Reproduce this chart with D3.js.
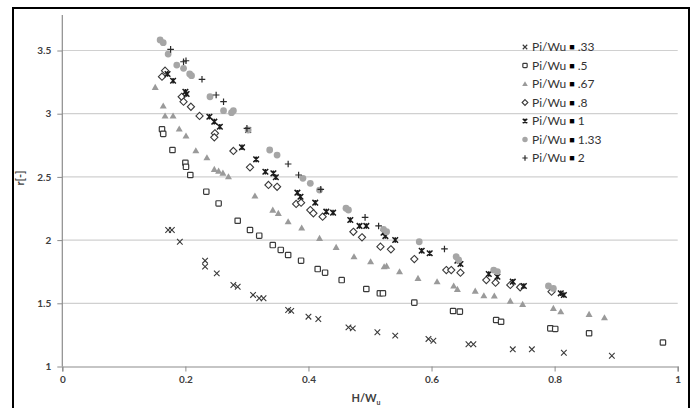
<!DOCTYPE html>
<html><head><meta charset="utf-8">
<script src="https://cdn.jsdelivr.net/npm/d3@7/dist/d3.min.js"></script>
<style>body{margin:0;background:#fff}svg{display:block}</style>
</head><body><svg id="c" width="696" height="408"></svg>
<script>
const seriesNames = ["Pi/Wu ■ .33","Pi/Wu ■ .5","Pi/Wu ■ .67","Pi/Wu ■ .8","Pi/Wu ■ 1","Pi/Wu ■ 1.33","Pi/Wu ■ 2"];
const xTicks = [0,0.2,0.4,0.6,0.8,1];
const yTicks = [1,1.5,2,2.5,3,3.5];

const s033 = [[0.172,2.08],[0.178,2.08],[0.191,1.987],[0.232,1.837],[0.232,1.79],[0.251,1.737],[0.278,1.645],[0.285,1.631],[0.310,1.566],[0.320,1.54],[0.327,1.54],[0.367,1.447],[0.372,1.44],[0.400,1.394],[0.416,1.376],[0.465,1.31],[0.472,1.302],[0.512,1.271],[0.541,1.244],[0.595,1.218],[0.603,1.204],[0.660,1.176],[0.668,1.176],[0.732,1.136],[0.763,1.136],[0.815,1.109],[0.893,1.085]];
const s05 = [[0.162,2.877],[0.164,2.84],[0.179,2.713],[0.200,2.612],[0.201,2.58],[0.208,2.515],[0.234,2.383],[0.254,2.29],[0.285,2.153],[0.305,2.08],[0.320,2.035],[0.342,1.961],[0.355,1.922],[0.367,1.882],[0.388,1.837],[0.415,1.771],[0.427,1.742],[0.454,1.684],[0.494,1.613],[0.516,1.579],[0.521,1.579],[0.572,1.505],[0.635,1.439],[0.646,1.434],[0.705,1.368],[0.713,1.354],[0.793,1.302],[0.801,1.297],[0.856,1.263],[0.976,1.19]];
const s067 = [[0.151,3.209],[0.164,3.061],[0.167,2.982],[0.180,2.982],[0.190,2.879],[0.201,2.824],[0.217,2.707],[0.235,2.652],[0.247,2.56],[0.254,2.546],[0.261,2.53],[0.270,2.502],[0.313,2.349],[0.342,2.238],[0.351,2.212],[0.367,2.146],[0.389,2.096],[0.418,2.014],[0.445,1.943],[0.474,1.869],[0.501,1.829],[0.523,1.79],[0.527,1.795],[0.548,1.75],[0.578,1.698],[0.609,1.671],[0.636,1.637],[0.642,1.611],[0.671,1.597],[0.685,1.56],[0.702,1.558],[0.728,1.518],[0.748,1.492],[0.798,1.46],[0.810,1.434],[0.856,1.413],[0.881,1.386]];
const s08 = [[0.162,3.293],[0.167,3.34],[0.194,3.134],[0.197,3.095],[0.209,3.055],[0.223,2.982],[0.248,2.845],[0.247,2.813],[0.278,2.705],[0.305,2.576],[0.335,2.436],[0.349,2.422],[0.380,2.286],[0.388,2.296],[0.403,2.238],[0.408,2.212],[0.423,2.185],[0.473,2.066],[0.487,2.022],[0.517,1.948],[0.534,1.927],[0.572,1.85],[0.624,1.763],[0.632,1.763],[0.647,1.742],[0.689,1.684],[0.704,1.663],[0.728,1.645],[0.744,1.627],[0.795,1.592]];
const s1 = [[0.171,3.314],[0.180,3.261],[0.200,3.174],[0.202,3.156],[0.239,2.976],[0.247,2.937],[0.256,2.897],[0.302,2.871],[0.292,2.734],[0.315,2.639],[0.330,2.541],[0.343,2.528],[0.347,2.497],[0.382,2.375],[0.387,2.343],[0.411,2.296],[0.429,2.225],[0.440,2.217],[0.468,2.159],[0.483,2.112],[0.494,2.112],[0.522,2.059],[0.525,2.032],[0.541,2.001],[0.584,1.916],[0.597,1.896],[0.642,1.837],[0.647,1.811],[0.693,1.732],[0.707,1.71],[0.732,1.671],[0.750,1.637],[0.810,1.579],[0.815,1.566]];
const s133 = [[0.159,3.583],[0.164,3.562],[0.172,3.472],[0.186,3.385],[0.197,3.359],[0.207,3.314],[0.210,3.301],[0.240,3.134],[0.262,3.024],[0.275,3.008],[0.278,3.024],[0.302,2.871],[0.337,2.713],[0.349,2.673],[0.391,2.489],[0.403,2.449],[0.418,2.396],[0.461,2.252],[0.465,2.238],[0.522,2.085],[0.527,2.066],[0.580,1.987],[0.640,1.869],[0.644,1.843],[0.701,1.763],[0.707,1.75],[0.790,1.637],[0.798,1.618]];
const s2 = [[0.176,3.509],[0.197,3.411],[0.201,3.419],[0.227,3.272],[0.250,3.148],[0.262,3.095],[0.300,2.884],[0.367,2.602],[0.384,2.515],[0.420,2.402],[0.492,2.18],[0.514,2.112],[0.621,1.93]];

const seriesData = [s033,s05,s067,s08,s1,s133,s2];
const markerTypes = ["x","square","triangle","diamond","star","circle","plus"];
const markerColors = ["#3a3a3a","#3a3a3a","#9a9a9a","#3a3a3a","#1a1a1a","#a6a6a6","#2a2a2a"];

const svg = d3.select("#c");
const font = "Lato, 'Open Sans', sans-serif";
const x = d3.scaleLinear().domain([0,1]).range([62.3,677.7]);
const y = d3.scaleLinear().domain([1,3.5]).range([366.5,50.5]);

// outer frame
svg.append("rect").attr("x",13).attr("y",8).attr("width",676).attr("height",420)
  .attr("fill","#fff").attr("stroke","#000").attr("stroke-width",2);

// gridlines
svg.append("g").selectAll("line").data(yTicks.slice(1)).join("line")
  .attr("x1",x(0)).attr("x2",x(1)).attr("y1",d=>y(d)).attr("y2",d=>y(d))
  .attr("stroke","#d0d0d0").attr("stroke-width",1.2);

// axes
const yAxis = d3.axisLeft(y).tickValues(yTicks).tickSize(5).tickPadding(6).tickFormat(d3.format("~g"));
const gy = svg.append("g").attr("transform",`translate(${x(0)},0)`).call(yAxis);
gy.select(".domain").remove();
gy.append("line").attr("x1",0).attr("x2",0).attr("y1",y(1)).attr("y2",y(3.78)).attr("stroke","#8c8c8c").attr("stroke-width",1.2);
gy.selectAll(".tick line").attr("stroke","#8c8c8c");
gy.selectAll("text").attr("font-family",font).attr("font-size",10).attr("fill","#404040").attr("font-weight","bold");

const xAxis = d3.axisBottom(x).tickValues(xTicks).tickSize(5).tickPadding(4).tickFormat(d3.format("~g"));
const gx = svg.append("g").attr("transform",`translate(0,${y(1)})`).call(xAxis);
gx.select(".domain").attr("stroke","#8c8c8c").attr("stroke-width",1.2);
gx.selectAll(".tick line").attr("stroke","#8c8c8c");
gx.selectAll("text").attr("font-family",font).attr("font-size",10).attr("fill","#404040").attr("font-weight","bold");

// axis titles
const xt = svg.append("text").attr("x",366).attr("y",402).attr("text-anchor","middle")
  .attr("font-family",font).attr("font-size",11).attr("font-weight","bold").attr("fill","#404040");
xt.append("tspan").text("H/W");
xt.append("tspan").attr("font-size",7).attr("dy",3).text("u");
svg.append("text").attr("transform","translate(24,178) rotate(-90)").attr("text-anchor","middle")
  .attr("font-family",font).attr("font-size",11).attr("font-weight","bold").attr("fill","#404040").text("r[-]");

// markers
function drawMarker(g, type, color, cx, cy, scale){
  const s = scale||1;
  if(type==="x"){
    const r=2.8*s;
    g.append("path").attr("d",`M${cx-r},${cy-r}L${cx+r},${cy+r}M${cx-r},${cy+r}L${cx+r},${cy-r}`).attr("stroke",color).attr("stroke-width",1.1).attr("fill","none");
  } else if(type==="star"){
    const r=2.8*s;
    g.append("path").attr("d",`M${cx-r},${cy-r}L${cx+r},${cy+r}M${cx-r},${cy+r}L${cx+r},${cy-r}M${cx},${cy-r}L${cx},${cy+r}`).attr("stroke",color).attr("stroke-width",1.5).attr("fill","none");
  } else if(type==="plus"){
    const r=3.3*s;
    g.append("path").attr("d",`M${cx-r},${cy}L${cx+r},${cy}M${cx},${cy-r}L${cx},${cy+r}`).attr("stroke",color).attr("stroke-width",1.2).attr("fill","none");
  } else if(type==="square"){
    const r=2.7*s;
    g.append("rect").attr("x",cx-r).attr("y",cy-r).attr("width",2*r).attr("height",2*r).attr("rx",0.8)
      .attr("fill","#fff").attr("stroke",color).attr("stroke-width",1.2);
  } else if(type==="diamond"){
    const r=3.6*s;
    g.append("path").attr("d",`M${cx},${cy-r}L${cx+r},${cy}L${cx},${cy+r}L${cx-r},${cy}Z`).attr("fill","#fff").attr("stroke",color).attr("stroke-width",1.1);
  } else if(type==="triangle"){
    const r=3.5*s;
    g.append("path").attr("d",`M${cx},${cy-r}L${cx+r},${cy+r*0.75}L${cx-r},${cy+r*0.75}Z`).attr("fill",color).attr("stroke","none");
  } else if(type==="circle"){
    g.append("circle").attr("cx",cx).attr("cy",cy).attr("r",3.4*s).attr("fill",color);
  }
}

const plot = svg.append("g");
seriesData.forEach((data,i)=>{
  const g = plot.append("g");
  data.forEach(d=>drawMarker(g, markerTypes[i], markerColors[i], x(d[0]), y(d[1])));
});

// legend
const lg = svg.append("g");
seriesNames.forEach((name,i)=>{
  const ly = 47 + i*18.5;
  drawMarker(lg, markerTypes[i], markerColors[i], 525, ly, 0.8);
  const t = lg.append("text").attr("x",532).attr("y",ly+4).attr("font-family",font).attr("font-size",12).attr("fill","#333");
  const parts = name.split("■");
  t.append("tspan").text(parts[0]);
  t.append("tspan").attr("font-size",9).attr("fill","#000").attr("dy",-1).text("■");
  t.append("tspan").attr("dy",1).text(parts[1]);
});
</script>
</body></html>
